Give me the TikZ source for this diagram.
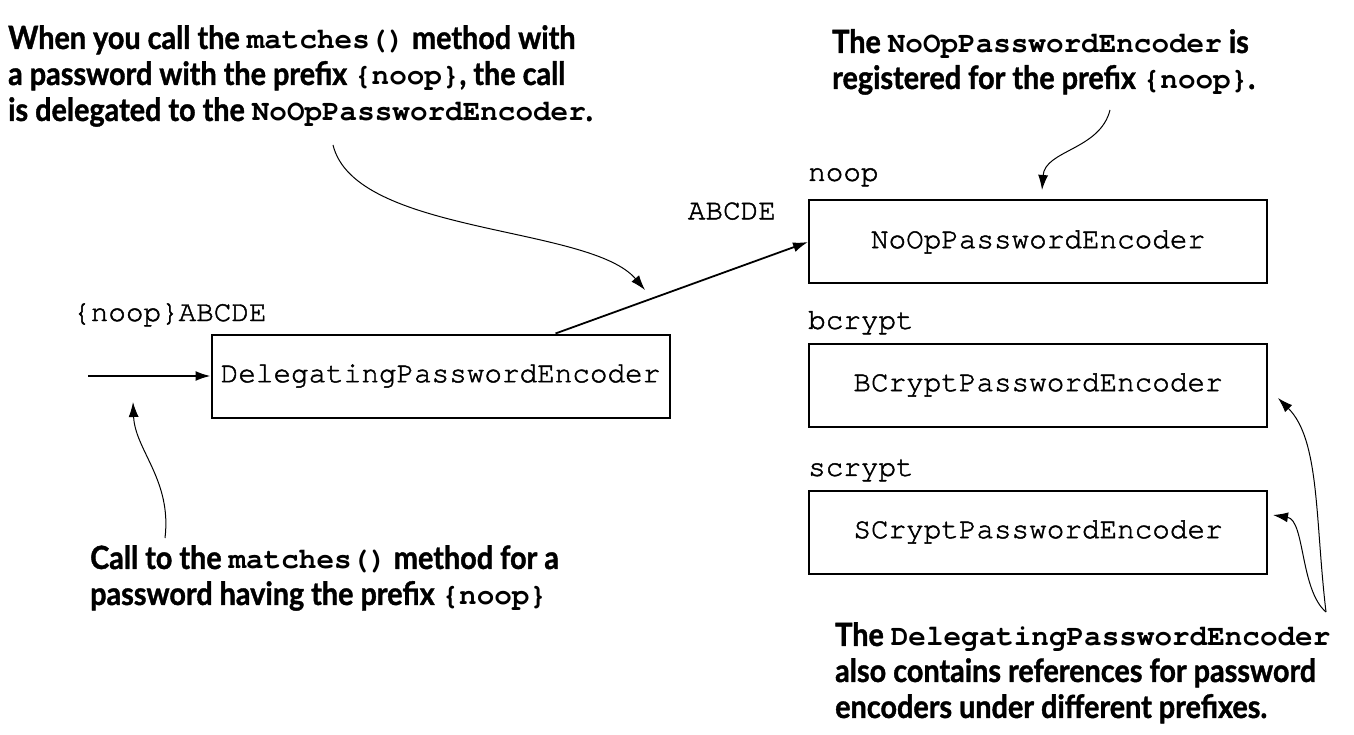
\documentclass[tikz,border=0pt]{standalone}
\usepackage{fontspec}
\setmonofont{TeX Gyre Cursor}[FakeBold=1.6, BoldFeatures={FakeBold=0}]
\newfontfamily\notefont{Lato}[FakeStretch=0.9, BoldFeatures={FakeBold=1.2}]
\newcommand\code[1]{{\ttfamily\fontsize{29.3}{36}\selectfont #1}}
\usetikzlibrary{positioning,calc,arrows.meta}

\begin{document}
\begin{tikzpicture}[
    x=1pt, y=-1pt,
    every node/.style = {inner sep=0pt},
    encoder/.style = {shape=rectangle, draw, line width=2pt,
      minimum width=458pt, minimum height=83pt,
      font=\ttfamily\fontsize{29.3}{35}\selectfont},
    keylabel/.style = {font=\ttfamily\fontsize{29.3}{35}\selectfont},
    note/.style = {align=left, anchor=north west,
      font=\notefont\bfseries\fontsize{32}{36}\selectfont},
    flow/.style = {line width=1.8pt, -{Latex[length=15pt,width=10pt]}},
    callout/.style = {line width=1pt, -{Latex[length=15pt,width=10pt]}},
    ]

  \useasboundingbox (0,0) rectangle (1354,735);

  % encoders
  \node[encoder] (deleg) at (440.5,376) {DelegatingPasswordEncoder};
  \node[encoder] (noop) at (1038,242) {NoOpPasswordEncoder};
  \node[encoder, below=58pt of noop] (bcrypt) {BCryptPasswordEncoder};
  \node[encoder, below=62pt of bcrypt] (scrypt) {SCryptPasswordEncoder};

  % prefixes and passwords
  \node[keylabel, above right=13pt and 0pt of noop.north west] (noopkey) {noop};
  \node[keylabel, above right=8pt and 0pt of bcrypt.north west] (bcryptkey) {bcrypt};
  \node[keylabel, above right=8pt and 0pt of scrypt.north west] (scryptkey) {scrypt};
  \node[keylabel, anchor=base west] (input) at (73,321) {\{noop\}ABCDE};
  \node[keylabel, above left=22pt and 32pt of noop.west] (pass) {ABCDE};

  \coordinate (in) at (88,376);
  \draw[flow] (in) -- (deleg.west);
  \draw[flow] ($(deleg.north west)!0.75!(deleg.north east)$) -- (noop.west);

  % notes
  \node[note] (notematch) at (8,25) {When you call the \code{matches()} method with\\
    a password with the prefix \code{\{noop\}}, the call\\
    is delegated to the \code{NoOpPasswordEncoder}.};
  \node[note] (notereg) at (832,29) {The \code{NoOpPasswordEncoder} is\\
    registered for the prefix \code{\{noop\}}.};
  \node[note] (notecall) at (90,545) {Call to the \code{matches()} method for a\\
    password having the prefix \code{\{noop\}}};
  \node[note] (noteref) at (835,622) {The \code{DelegatingPasswordEncoder}\\
    also contains references for password\\
    encoders under different prefixes.};

  % callouts
  \coordinate (m1) at (333,145);
  \coordinate (m2) at (645,290);
  \draw[callout] (m1) .. controls (355,235) and (590,225) .. (m2);
  \coordinate (r1) at (1110,110);
  \coordinate (r2) at (1042,190);
  \draw[callout] (r1) .. controls (1100,150) and (1045,150) .. (r2);
  \coordinate (c1) at (165,538);
  \coordinate (c2) at (133,402);
  \draw[callout] (c1) .. controls (172,480) and (135,450) .. (c2);
  \coordinate (e1) at (1326,612);
  \coordinate (e2) at (1278,398);
  \coordinate (e3) at (1273,515);
  \draw[callout] (e1) .. controls (1315,520) and (1320,440) .. (e2);
  \draw[callout] (e1) .. controls (1300,590) and (1305,520) .. (e3);
\end{tikzpicture}
\end{document}
